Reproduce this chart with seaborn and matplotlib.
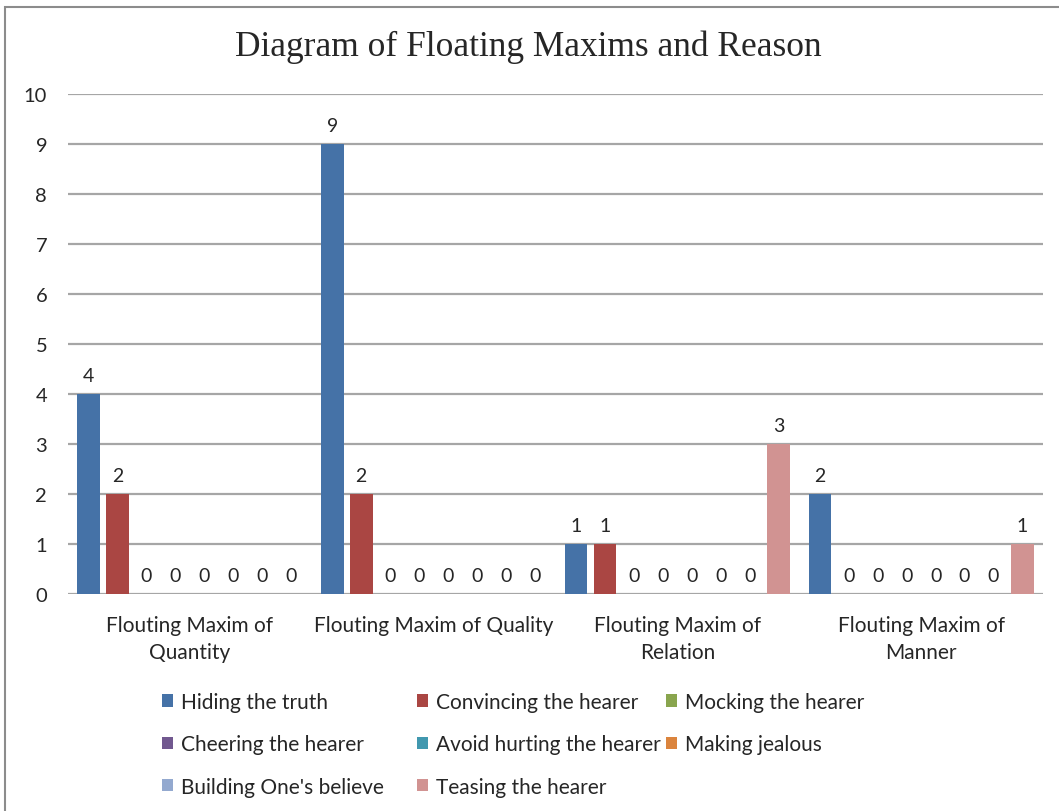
import matplotlib
matplotlib.use("Agg")
import matplotlib.pyplot as plt
from matplotlib.patches import Rectangle, Patch
import pandas as pd
import seaborn as sns

maxims = ["Flouting Maxim of\nQuantity", "Flouting Maxim of Quality",
          "Flouting Maxim of\nRelation", "Flouting Maxim of\nManner"]
reasons = ["Hiding the truth", "Convincing the hearer", "Mocking the hearer",
           "Cheering the hearer", "Avoid hurting the hearer", "Making jealous",
           "Building One's believe", "Teasing the hearer"]
# counts per reason, one value per maxim
hiding = [4, 9, 1, 2]
convincing = [2, 2, 1, 0]
mocking = [0, 0, 0, 0]
cheering = [0, 0, 0, 0]
avoid_hurting = [0, 0, 0, 0]
making_jealous = [0, 0, 0, 0]
building = [0, 0, 0, 0]
teasing = [0, 0, 3, 1]
series = [hiding, convincing, mocking, cheering, avoid_hurting,
          making_jealous, building, teasing]
colors = ["#4572A7", "#AA4643", "#89A54E", "#71588F",
          "#4198AF", "#DB843D", "#93A9CF", "#D19392"]

rows = []
for reason, vals in zip(reasons, series):
    for m, v in zip(maxims, vals):
        rows.append({"maxim": m, "reason": reason, "count": v})
df = pd.DataFrame(rows)

sns.set_style("white")
plt.rcParams["font.family"] = ["Lato", "DejaVu Sans"]

fig = plt.figure(figsize=(10.59, 8.12), dpi=100)
ax = fig.add_axes([68 / 1059, 1 - 595 / 812, 975 / 1059, 500 / 812])

sns.barplot(data=df, x="maxim", y="count", hue="reason", order=maxims,
            hue_order=reasons, palette=colors, width=0.95, gap=0.22,
            saturation=1, legend=False, linewidth=0, ax=ax)

ax.set_ylim(0, 10)
ax.set_yticks(range(0, 11))
ax.set_xlim(-0.5, 3.5)
ax.grid(axis="y", color="#A6A6A6", linewidth=1.6)
ax.set_axisbelow(True)
for s in ax.spines.values():
    s.set_visible(False)
ax.tick_params(axis="y", length=0, labelsize=14.5, pad=15)
ax.tick_params(axis="x", length=0, labelsize=15, pad=15)
for lbl in ax.get_xticklabels():
    lbl.set_linespacing(1.45)
ax.set_xlabel("")
ax.set_ylabel("")

for cont in ax.containers:
    ax.bar_label(cont, fmt="%d", padding=7, fontsize=14)

fig.text(528 / 1059, 1 - 47 / 812, "Diagram of Floating Maxims and Reason",
         ha="center", va="center", fontsize=25.5, family="Liberation Serif")

# legend laid out in three fixed columns
handles = [Patch(facecolor=c, edgecolor="none") for c in colors]
col_x = [162, 417, 666]
cols = [[0, 3, 6], [1, 4, 7], [2, 5]]
for cx, idx in zip(col_x, cols):
    fig.legend([handles[i] for i in idx], [reasons[i] for i in idx],
               loc="upper left", bbox_to_anchor=(cx / 1059, 1 - 693 / 812),
               frameon=False, fontsize=15, handlelength=0.55,
               handleheight=0.55, handletextpad=0.35, labelspacing=1.07,
               borderpad=0, borderaxespad=0)

fig.patches.append(Rectangle((5 / 1059, -0.2), 1.2, 1.2 - 8 / 812,
                             transform=fig.transFigure, fill=False,
                             edgecolor="#8C8C8C", linewidth=1.5))

fig.savefig("out.png", dpi=100, facecolor="white")
